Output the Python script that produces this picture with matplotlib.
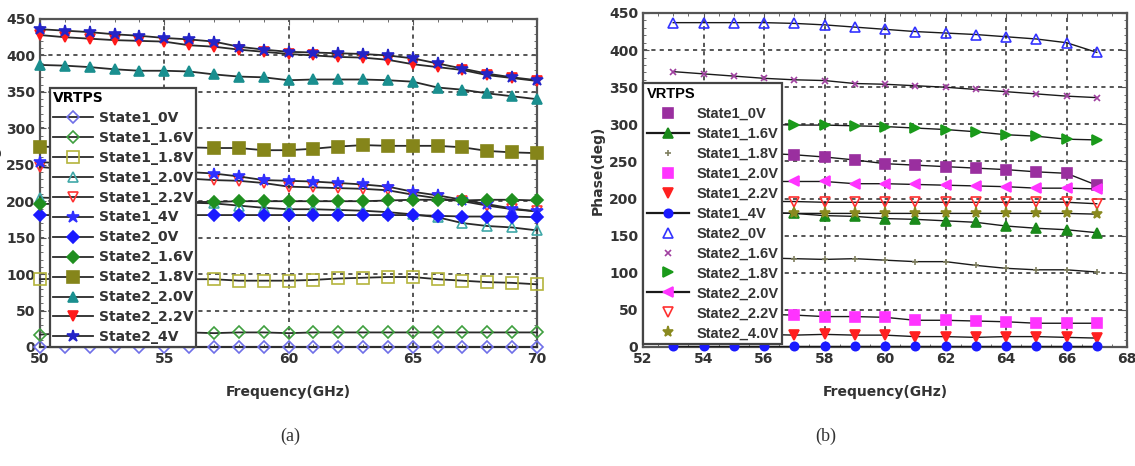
import matplotlib
matplotlib.use('Agg')
import matplotlib.pyplot as plt
from matplotlib.lines import Line2D
from matplotlib.ticker import MultipleLocator

# ---- panel (a) data ----
freq_a = [50, 51, 52, 53, 54, 55, 56, 57, 58, 59, 60,
          61, 62, 63, 64, 65, 66, 67, 68, 69, 70]

a_state1_0v = [0, 0, 0, 0, 0, 0, 0, 0, 0, 0, 0,
               0, 0, 0, 0, 0, 0, 0, 0, 0, 0]
a_state1_16v = [17, 19, 20, 20, 20, 20, 20, 19, 20, 20, 19,
                20, 20, 20, 20, 20, 20, 20, 20, 20, 20]
a_state1_18v = [93, 94, 94, 94, 94, 93, 93, 93, 91, 91, 91,
                92, 94, 95, 96, 96, 93, 91, 89, 88, 86]
a_state1_20v = [205, 204, 203, 202, 200, 199, 198, 197, 194, 191, 189,
                189, 188, 187, 185, 182, 178, 170, 166, 164, 160]
a_state1_22v = [247, 244, 241, 238, 236, 233, 231, 229, 228, 225, 220,
                219, 218, 217, 215, 209, 204, 200, 194, 189, 186]
a_state1_4v = [254, 251, 248, 246, 244, 242, 240, 238, 234, 229, 228,
               227, 225, 223, 220, 213, 208, 202, 196, 190, 186]
a_state2_0v = [181, 181, 181, 181, 181, 181, 181, 181, 181, 181, 181,
               181, 181, 181, 181, 181, 180, 179, 179, 179, 178]
a_state2_16v = [196, 197, 198, 198, 199, 199, 199, 199, 200, 200, 200,
                200, 200, 200, 201, 202, 202, 201, 202, 202, 201]
a_state2_18v = [275, 274, 274, 274, 274, 274, 274, 273, 273, 270, 270,
                272, 275, 277, 276, 276, 276, 274, 269, 267, 266]
a_state2_20v = [387, 386, 384, 381, 379, 379, 378, 374, 371, 370, 366,
                367, 367, 367, 366, 364, 356, 353, 348, 344, 340]
a_state2_22v = [428, 425, 423, 421, 420, 419, 414, 412, 408, 405, 402,
                400, 398, 397, 394, 388, 384, 380, 373, 369, 365]
a_state2_4v = [436, 434, 432, 429, 427, 424, 422, 419, 412, 408, 405,
               404, 403, 402, 400, 396, 389, 382, 375, 370, 366]

a_labels = ['State1_0V', 'State1_1.6V', 'State1_1.8V', 'State1_2.0V',
            'State1_2.2V', 'State1_4V', 'State2_0V', 'State2_1.6V',
            'State2_1.8V', 'State2_2.0V', 'State2_2.2V', 'State2_4V']

# ---- panel (b) data ----
freq_b = [53, 54, 55, 56, 57, 58, 59, 60, 61, 62, 63, 64, 65, 66, 67]

b_state1_0v = [266, 264, 262, 261, 259, 256, 252, 247, 245, 243, 241, 239, 236, 234, 218]
b_state1_16v = [184, 183, 182, 181, 180, 177, 176, 173, 172, 170, 168, 163, 160, 158, 154]
b_state1_18v = [122, 121, 121, 120, 119, 118, 119, 117, 115, 115, 110, 106, 104, 104, 101]
b_state1_20v = [46, 45, 45, 44, 43, 41, 41, 40, 36, 36, 35, 34, 32, 32, 32]
b_state1_22v = [18, 18, 17, 17, 16, 17, 16, 16, 14, 14, 13, 14, 14, 13, 12]
b_state1_4v = [2, 2, 2, 2, 2, 2, 2, 2, 2, 2, 2, 2, 2, 2, 2]
b_state2_0v = [437, 437, 437, 437, 436, 434, 431, 428, 425, 423, 421, 418, 415, 410, 397]
b_state2_16v = [371, 368, 365, 362, 360, 359, 355, 354, 352, 350, 347, 344, 341, 338, 336]
b_state2_18v = [302, 301, 300, 300, 299, 299, 298, 297, 295, 293, 290, 286, 284, 280, 279]
b_state2_20v = [225, 224, 224, 223, 223, 223, 220, 220, 219, 218, 217, 216, 214, 214, 213]
b_state2_22v = [197, 197, 196, 196, 196, 195, 195, 195, 195, 195, 195, 195, 195, 195, 193]
b_state2_40v = [181, 181, 181, 181, 180, 180, 180, 180, 180, 180, 180, 180, 180, 180, 179]

b_labels = ['State1_0V', 'State1_1.6V', 'State1_1.8V', 'State1_2.0V',
            'State1_2.2V', 'State1_4V', 'State2_0V', 'State2_1.6V',
            'State2_1.8V', 'State2_2.0V', 'State2_2.2V', 'State2_4.0V']

GRID = dict(color='#3a3a3a', linestyle=(0, (2.5, 2.5)), linewidth=1.2)


def style_axes(ax: plt.Axes):
    for sp in ax.spines.values():
        sp.set_color('#555555')
        sp.set_linewidth(1.6)
    ax.tick_params(which='both', direction='in', top=True, right=True,
                   colors='#555555', labelcolor='#333333', labelsize=10)
    ax.tick_params(which='major', length=4)
    ax.tick_params(which='minor', length=2.5)
    ax.set_axisbelow(True)
    ax.grid(True, which='major', **GRID)


def panel_a(ax: plt.Axes):
    # (values, color, marker, filled)
    styles = [
        (a_state1_0v, '#6f6fe8', 'D', False),
        (a_state1_16v, '#3f9f3f', 'D', False),
        (a_state1_18v, '#b4b43c', 's', False),
        (a_state1_20v, '#3fa8a8', '^', False),
        (a_state1_22v, '#ff3333', 'v', False),
        (a_state1_4v, '#3030ff', '*', True),
        (a_state2_0v, '#1a1aff', 'D', True),
        (a_state2_16v, '#1f8f1f', 'D', True),
        (a_state2_18v, '#85851a', 's', True),
        (a_state2_20v, '#1a8f8f', '^', True),
        (a_state2_22v, '#ff1a1a', 'v', True),
        (a_state2_4v, '#2424c8', '*', True),
    ]
    handles = []
    for (vals, col, mk, filled), lab in zip(styles, a_labels):
        ms = 9 if mk == '*' else 7
        if mk == 's':
            ms = 8
        if mk == 'D':
            ms = 6
        kw = dict(color='#2a2a2a', linewidth=1.3, marker=mk, markersize=ms,
                  markeredgecolor=col, markeredgewidth=1.2,
                  markerfacecolor=col if filled else 'none')
        ax.plot(freq_a, vals, zorder=3, clip_on=False, **kw)
        handles.append(Line2D([0], [0], label=lab, **kw))

    ax.set_xlim(50, 70)
    ax.set_ylim(0, 450)
    ax.xaxis.set_major_locator(MultipleLocator(5))
    ax.yaxis.set_major_locator(MultipleLocator(50))
    ax.yaxis.set_minor_locator(MultipleLocator(10))
    ax.xaxis.set_minor_locator(MultipleLocator(1))
    style_axes(ax)
    ax.set_xlabel('Frequency(GHz)', fontsize=10, color='#333333', labelpad=14)
    ax.set_ylabel('Phase(deg)', fontsize=10, color='#333333')
    ax.yaxis.set_label_coords(-0.078, 0.5)

    leg = ax.legend(handles=handles, title='VRTPS', loc='upper left',
                    bbox_to_anchor=(0.02, 0.79), fontsize=10,
                    title_fontproperties={'weight': 'bold', 'size': 10},
                    alignment='left', frameon=True, fancybox=False,
                    edgecolor='#444444', framealpha=1, borderpad=0.2,
                    labelspacing=0.43, handlelength=2.9, handletextpad=0.4,
                    borderaxespad=0, numpoints=1)
    leg.get_frame().set_linewidth(1.6)
    leg.set_zorder(10)
    for t in leg.get_texts():
        t.set_color('#333333')


def panel_b(ax: plt.Axes):
    # (values, color, marker, filled, legend line)
    styles = [
        (b_state1_0v, '#9a2f9f', 's', True, False),
        (b_state1_16v, '#1a8a1a', '^', True, True),
        (b_state1_18v, '#7f7f60', '+', True, False),
        (b_state1_20v, '#ff33ff', 's', True, False),
        (b_state1_22v, '#ff2020', 'v', True, False),
        (b_state1_4v, '#1a1aff', 'o', True, True),
        (b_state2_0v, '#3333ff', '^', False, False),
        (b_state2_16v, '#a040a0', 'x', True, False),
        (b_state2_18v, '#1a9a1a', '>', True, False),
        (b_state2_20v, '#ff33ff', '<', True, True),
        (b_state2_22v, '#ff3030', 'v', False, False),
        (b_state2_40v, '#8a8a20', '*', True, False),
    ]
    handles = []
    for (vals, col, mk, filled, leg_line), lab in zip(styles, b_labels):
        ms = {'s': 6.5, '^': 6.5, '+': 5, 'v': 7, 'o': 6, 'x': 5,
              '>': 7, '<': 7, '*': 8}[mk]
        mkw = dict(marker=mk, markersize=ms, markeredgecolor=col,
                   markeredgewidth=1.2,
                   markerfacecolor=col if filled else 'none')
        ax.plot(freq_b, vals, color='#1a1a1a', linewidth=1.0, zorder=3,
                clip_on=False, **mkw)
        handles.append(Line2D([0], [0], label=lab, color='#1a1a1a',
                              linewidth=1.6 if leg_line else 0, **mkw))

    ax.set_xlim(52, 68)
    ax.set_ylim(0, 450)
    ax.xaxis.set_major_locator(MultipleLocator(2))
    ax.xaxis.set_minor_locator(MultipleLocator(0.5))
    ax.yaxis.set_major_locator(MultipleLocator(50))
    ax.yaxis.set_minor_locator(MultipleLocator(10))
    style_axes(ax)
    ax.set_xlabel('Frequency(GHz)', fontsize=10, color='#333333', labelpad=14)
    ax.set_ylabel('Phase(deg)', fontsize=10, color='#333333')
    ax.yaxis.set_label_coords(-0.079, 0.53)

    leg = ax.legend(handles=handles, title='VRTPS', loc='upper left',
                    bbox_to_anchor=(0.0, 0.79),
                    prop={'family': 'Liberation Sans', 'weight': 'bold',
                          'size': 10.5},
                    title_fontproperties={'family': 'Liberation Sans',
                                          'weight': 'bold', 'size': 10.5},
                    alignment='left', frameon=True, fancybox=False,
                    edgecolor='#444444', framealpha=1, borderpad=0.25,
                    labelspacing=0.41, handlelength=2.9, handletextpad=0.5,
                    borderaxespad=0, numpoints=1)
    leg.get_frame().set_linewidth(1.6)
    leg.set_zorder(10)
    for t in leg.get_texts():
        t.set_color('#333333')


def main():
    plt.rcParams['font.family'] = ['DejaVu Sans']
    plt.rcParams['font.weight'] = 'bold'
    plt.rcParams['axes.labelweight'] = 'bold'

    fig = plt.figure(figsize=(11.35, 4.66), dpi=100)
    ax_a = fig.add_axes([40 / 1135, 1 - 347 / 466, 497 / 1135, 328 / 466])
    ax_b = fig.add_axes([643 / 1135, 1 - 347 / 466, 484 / 1135, 334 / 466])

    panel_a(ax_a)
    panel_b(ax_b)

    fig.text(290 / 1135, 1 - 436 / 466, '(a)', ha='center', va='center',
             family='Liberation Serif', weight='normal', size=13,
             color='#333333')
    fig.text(826 / 1135, 1 - 436 / 466, '(b)', ha='center', va='center',
             family='Liberation Serif', weight='normal', size=13,
             color='#333333')

    fig.savefig('out.png', dpi=100)


if __name__ == '__main__':
    main()
